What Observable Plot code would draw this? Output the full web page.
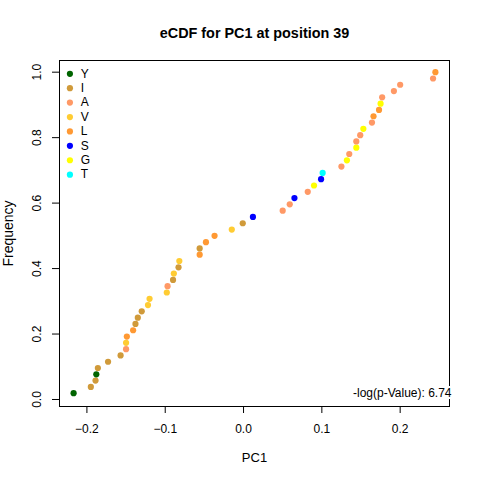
<!DOCTYPE html>
<html><head><meta charset="utf-8">
<script src="https://cdn.jsdelivr.net/npm/d3@7"></script>
<script src="https://cdn.jsdelivr.net/npm/@observablehq/plot@0.6"></script>
<style>
body{margin:0;background:#fff;}
svg{font-family:"Liberation Sans",Arial,sans-serif;}
</style>
</head><body>
<div id="chart"></div>
<script>
const pc1 = [-0.217,-0.195,-0.189,-0.188,-0.186,-0.173,-0.157,-0.150,-0.150,-0.149,
  -0.141,-0.138,-0.135,-0.130,-0.122,-0.120,-0.098,-0.097,-0.090,-0.089,
  -0.083,-0.082,-0.056,-0.056,-0.048,-0.037,-0.015,-0.001,0.012,0.050,
  0.059,0.065,0.082,0.090,0.099,0.101,0.125,0.132,0.135,0.144,
  0.144,0.149,0.153,0.164,0.166,0.173,0.175,0.177,0.192,0.200,
  0.242,0.245];
const residues = ["Y","I","I","Y","I","I","I","A","V","L",
  "L","I","I","I","V","V","V","A","I","V",
  "I","V","L","I","L","L","V","I","S","A",
  "A","S","A","G","S","T","A","G","A","G",
  "A","A","G","A","L","L","G","A","A","A",
  "A","L"];
const legendKeys = ["Y","I","A","V","L","S","G","T"];
const legendColors = ["#006400","#D09A3A","#FF9966","#FFCC33","#FF9933","#0000FF","#FFFF00","#00FFFF"];
const xTicks = [-0.2,-0.1,0.0,0.1,0.2];
const yTicks = [0.0,0.2,0.4,0.6,0.8,1.0];
const titleText = "eCDF for PC1 at position 39";
const pText = "-log(p-Value): 6.74";

const n = pc1.length;
const data = pc1.map((x,i)=>({x, y:(i+1)/n, res:residues[i]}));
const fmtX = d => (d < 0 ? "\u2212" : "") + Math.abs(d).toFixed(1);
const fmtY = d => d.toFixed(1);

// legend placed in data space near top-left corner
const legRows = legendKeys.map((k,i)=>({k, i, y: 0.995 - 0.044*i}));

const plot = Plot.plot({
  width:480, height:480,
  marginLeft:59, marginRight:31, marginTop:60, marginBottom:74,
  style:{fontFamily:'"Liberation Sans",Arial,sans-serif', fontSize:"12px", background:"white"},
  x:{domain:[-0.235,0.263]},
  y:{domain:[-0.0214,1.0357]},
  color:{domain:legendKeys, range:legendColors},
  marks:[
    Plot.frame({stroke:"black"}),
    Plot.axisX({ticks:xTicks, tickSize:7, tickPadding:11, tickFormat:fmtX, label:null, fontSize:12, stroke:"black"}),
    Plot.axisY({ticks:yTicks, tickSize:7, tickFormat:()=>"", label:null, stroke:"black"}),
    Plot.text(yTicks, {x:-0.235, y:d=>d, text:fmtY, rotate:-90, dx:-22.5, textAnchor:"middle", lineAnchor:"middle", fontSize:12, fill:"black"}),
    Plot.text([titleText], {frameAnchor:"top", dy:-27, text:d=>d, fontWeight:"bold", fontSize:14.4, fill:"black", lineAnchor:"middle"}),
    Plot.text(["PC1"], {frameAnchor:"bottom", dy:51, text:d=>d, fontSize:13, fill:"black", lineAnchor:"middle"}),
    Plot.text(["Frequency"], {frameAnchor:"left", dx:-51, rotate:-90, text:d=>d, fontSize:14, fill:"black", textAnchor:"middle", lineAnchor:"middle"}),
    Plot.dot(data, {x:"x", y:"y", fill:"res", r:3.1, stroke:null}),
    Plot.text([pText], {frameAnchor:"bottom-right", dx:2, dy:-13, text:d=>d, fontSize:12, fill:"black", textAnchor:"end", lineAnchor:"middle", stroke:"white", strokeWidth:4, paintOrder:"stroke"}),
    Plot.dot(legRows, {x:()=>-0.2217, y:"y", fill:"k", r:3.1}),
    Plot.text(legRows, {x:()=>-0.2080, y:"y", text:"k", textAnchor:"start", fontSize:12, fill:"black", lineAnchor:"middle"})
  ]
});
document.getElementById("chart").appendChild(plot);
</script>
</body></html>
